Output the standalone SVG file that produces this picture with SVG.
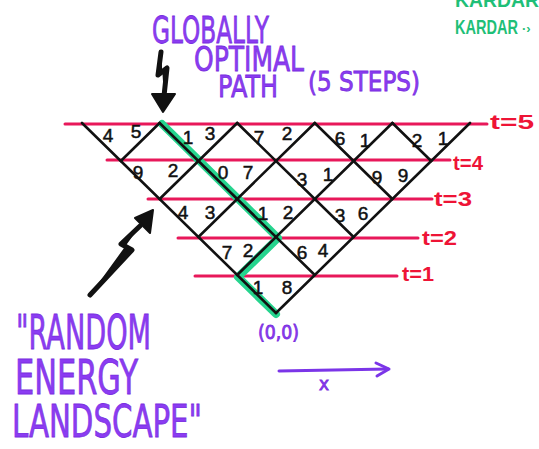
<svg xmlns="http://www.w3.org/2000/svg" width="539" height="449" viewBox="0 0 539 449">
<style>
.hand{font-family:"DejaVu Sans","Liberation Sans",sans-serif;fill:#8b3cf2;stroke:#7a2fe0;stroke-width:0.8}
.num{font-family:"Liberation Sans","DejaVu Sans",sans-serif;font-size:19px;fill:#111;stroke:#111;stroke-width:0.5;text-anchor:middle}
.tl{stroke:#e8185a;stroke-width:3;stroke-linecap:round}
.tlab{font-family:"Liberation Sans",sans-serif;font-size:20px;font-weight:bold;fill:#ee1436}
.grid{stroke:#111;stroke-width:2.6;stroke-linecap:round;fill:none}
.ink{fill:#111;stroke:#111;stroke-linecap:round;stroke-linejoin:round}
.sig{font-family:"Liberation Sans",sans-serif;font-weight:bold;fill:#1fbf78}
</style>
<rect width="539" height="449" fill="#fff"/>

<g id="time-lines">
<line class="tl" x1="65" y1="124" x2="487" y2="124"/>
<line class="tl" x1="107" y1="160" x2="450" y2="160"/>
<line class="tl" x1="148" y1="199" x2="432" y2="199"/>
<line class="tl" x1="178" y1="238" x2="418" y2="238"/>
<line class="tl" x1="195" y1="276" x2="397" y2="276"/>
<text class="tlab" x="490" y="129" textLength="44" lengthAdjust="spacingAndGlyphs">t=5</text>
<text class="tlab" x="453" y="170" font-size="17" textLength="30" lengthAdjust="spacingAndGlyphs">t=4</text>
<text class="tlab" x="434" y="206" textLength="38" lengthAdjust="spacingAndGlyphs">t=3</text>
<text class="tlab" x="422" y="245" textLength="35" lengthAdjust="spacingAndGlyphs">t=2</text>
<text class="tlab" x="402" y="281" textLength="32" lengthAdjust="spacingAndGlyphs">t=1</text>
</g>

<g id="optimal-path">
<polyline points="162,124 278,238 238,277 276,314" fill="none" stroke="#26d48e" stroke-width="8" stroke-linejoin="round" stroke-linecap="round"/>
</g>

<g id="lattice" class="grid">
<line x1="82" y1="123" x2="276" y2="313"/>
<line x1="159.6" y1="123" x2="314.8" y2="275"/>
<line x1="237.2" y1="123" x2="353.6" y2="237"/>
<line x1="314.8" y1="123" x2="392.4" y2="199"/>
<line x1="392.4" y1="123" x2="431.2" y2="161"/>
<line x1="470" y1="123" x2="276" y2="313"/>
<line x1="392.4" y1="123" x2="237.2" y2="275"/>
<line x1="314.8" y1="123" x2="198.4" y2="237"/>
<line x1="237.2" y1="123" x2="159.6" y2="199"/>
<line x1="159.6" y1="123" x2="120.8" y2="161"/>
</g>

<g id="energies">
<text class="num" x="108" y="142">4</text><text class="num" x="136" y="138">5</text>
<text class="num" x="188" y="144">1</text><text class="num" x="210" y="140">3</text>
<text class="num" x="259" y="144">7</text><text class="num" x="287" y="140">2</text>
<text class="num" x="340" y="145">6</text><text class="num" x="365" y="147">1</text>
<text class="num" x="417" y="147">2</text><text class="num" x="443" y="145">1</text>
<text class="num" x="138" y="179">9</text><text class="num" x="173" y="177">2</text>
<text class="num" x="223" y="179">0</text><text class="num" x="248" y="179">7</text>
<text class="num" x="302" y="186">3</text><text class="num" x="328" y="181">1</text>
<text class="num" x="377" y="184">9</text><text class="num" x="403" y="182">9</text>
<text class="num" x="183" y="219">4</text><text class="num" x="210" y="219">3</text>
<text class="num" x="263" y="220">1</text><text class="num" x="288" y="219">2</text>
<text class="num" x="340" y="222">3</text><text class="num" x="363" y="220">6</text>
<text class="num" x="227" y="259">7</text><text class="num" x="248" y="257">2</text>
<text class="num" x="302" y="259">6</text><text class="num" x="323" y="257">4</text>
<text class="num" x="258" y="294">1</text><text class="num" x="287" y="294">8</text>
</g>

<g id="title">
<text class="hand" x="152" y="43" font-size="38" textLength="117" lengthAdjust="spacingAndGlyphs">GLOBALLY</text>
<text class="hand" x="194" y="71" font-size="34" textLength="110" lengthAdjust="spacingAndGlyphs">OPTIMAL</text>
<text class="hand" x="218" y="97" font-size="31" textLength="60" lengthAdjust="spacingAndGlyphs">PATH</text>
<text class="hand" x="308" y="91" font-size="27" textLength="112" lengthAdjust="spacingAndGlyphs">(5 STEPS)</text>
</g>

<g id="arrow-top">
<polyline class="ink" points="161,52 158,75 167,68 164,96" fill="none" stroke-width="5"/>
<polygon class="ink" points="152,94 175,94 163,112" stroke-width="2"/>
</g>

<g id="landscape-label">
<text class="hand" x="16" y="349" font-size="48" textLength="135" lengthAdjust="spacingAndGlyphs">"RANDOM</text>
<text class="hand" x="15" y="394" font-size="48" textLength="123" lengthAdjust="spacingAndGlyphs">ENERGY</text>
<text class="hand" x="12" y="437" font-size="45" textLength="190" lengthAdjust="spacingAndGlyphs">LANDSCAPE"</text>
</g>

<g id="arrow-bottom">
<polyline class="ink" points="90,295 132,250 121,244 140,226" fill="none" stroke-width="5"/>
<polygon class="ink" points="153,210 135,218 150,233" stroke-width="2"/>
</g>

<g id="origin">
<text class="hand" x="258" y="339" font-size="19" textLength="41" lengthAdjust="spacingAndGlyphs">(0,0)</text>
</g>

<g id="x-axis">
<line x1="279" y1="371" x2="388" y2="369" stroke="#7b35e8" stroke-width="3" stroke-linecap="round"/>
<polyline points="376,363 389,369 377,376" fill="none" stroke="#7b35e8" stroke-width="3" stroke-linecap="round" stroke-linejoin="round"/>
<text class="hand" x="324" y="390" font-size="17" text-anchor="middle">x</text>
</g>

<g id="signature">
<text class="sig" x="455" y="7" font-size="20" textLength="84" lengthAdjust="spacingAndGlyphs">KARDAR</text>
<text class="sig" x="455" y="34" font-size="21" textLength="63" lengthAdjust="spacingAndGlyphs">KARDAR</text>
<text class="sig" x="522" y="33" font-size="13">·›</text>
</g>
</svg>
